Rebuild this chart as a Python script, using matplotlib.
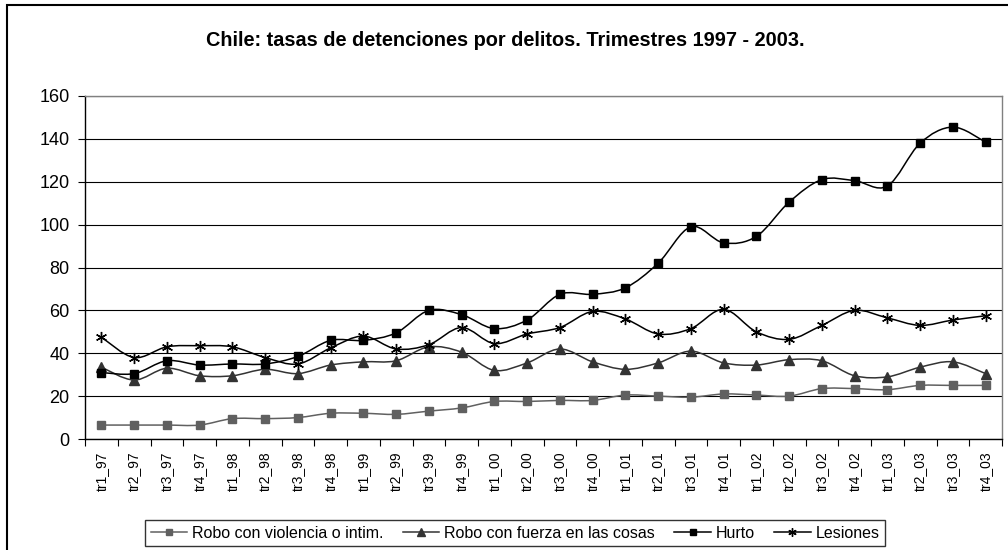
import matplotlib
matplotlib.use("Agg")
import matplotlib.pyplot as plt
from matplotlib.path import Path
from matplotlib.patches import PathPatch, Rectangle
from matplotlib.lines import Line2D
import numpy as np

plt.rcParams['font.family'] = ['Liberation Sans', 'DejaVu Sans']

categories = ["tr1_97", "tr2_97", "tr3_97", "tr4_97",
              "tr1_98", "tr2_98", "tr3_98", "tr4_98",
              "tr1_99", "tr2_99", "tr3_99", "tr4_99",
              "tr1_00", "tr2_00", "tr3_00", "tr4_00",
              "tr1_01", "tr2_01", "tr3_01", "tr4_01",
              "tr1_02", "tr2_02", "tr3_02", "tr4_02",
              "tr1_03", "tr2_03", "tr3_03", "tr4_03"]

robo_violencia = [6.5, 6.5, 6.5, 6.5, 9.5, 9.5, 10, 12, 12, 11.5, 13, 14.5,
                  17.5, 17.5, 18, 18, 20.5, 20, 19.5, 21, 20.5, 20, 23.5, 23.5,
                  23, 25, 25, 25]
robo_fuerza = [33.5, 27.5, 33, 29.5, 29.5, 32.5, 30.5, 34.5, 36, 36.5, 43, 40.5,
               32, 35.5, 42, 36, 32.5, 35.5, 41, 35.5, 34.5, 37, 36.5, 29.5,
               29, 33.5, 36, 30.5]
hurto = [31, 30.5, 36.5, 34.5, 35, 35, 38.5, 46, 46, 49.5, 60, 58,
         51.5, 55.5, 67.5, 67.5, 70.5, 82, 99, 91.5, 94.5, 110.5, 121, 120.5,
         118, 138, 145.5, 138.5]
lesiones = [47.5, 38, 43, 43.5, 43, 38, 35, 42.5, 48, 42, 44, 52,
            44.5, 49, 52, 59.5, 56, 49, 51.5, 60.5, 50, 46.5, 53, 60,
            56.5, 53, 55.5, 57.5]

series_names = ["Robo con violencia o intim.", "Robo con fuerza en las cosas",
                "Hurto", "Lesiones"]
yticks = [0, 20, 40, 60, 80, 100, 120, 140, 160]
title = "Chile: tasas de detenciones por delitos. Trimestres 1997 - 2003."

W, H = 1008, 550
fig = plt.figure(figsize=(W / 100, H / 100), dpi=100)
fig.patch.set_facecolor("white")

# outer chart frame
fig.patches.append(Rectangle((7 / W, -0.2), 1.2, 1 - 5 / H + 0.2,
                             transform=fig.transFigure, fill=False,
                             edgecolor="black", linewidth=1.5))

px_left, px_right, px_top, px_bottom = 85, 1002, 96, 439
ax = fig.add_axes([px_left / W, 1 - px_bottom / H,
                   (px_right - px_left) / W, (px_bottom - px_top) / H])

x = np.arange(len(categories))


def smooth_path(xs, ys):
    pts = np.column_stack([xs, ys]).astype(float)
    n = len(pts)
    verts = [pts[0]]
    codes = [Path.MOVETO]
    for i in range(n - 1):
        p0 = pts[i - 1] if i > 0 else pts[i]
        p1 = pts[i]
        p2 = pts[i + 1]
        p3 = pts[i + 2] if i + 2 < n else pts[i + 1]
        c1 = p1 + (p2 - p0) / 6.0
        c2 = p2 - (p3 - p1) / 6.0
        verts += [c1, c2, p2]
        codes += [Path.CURVE4] * 3
    return Path(verts, codes)


styles = [
    dict(data=robo_violencia, color="#606060", marker="s", ms=6, mfc="#606060"),
    dict(data=robo_fuerza, color="#333333", marker="^", ms=7, mfc="#333333"),
    dict(data=hurto, color="#000000", marker="s", ms=6, mfc="#000000"),
    dict(data=lesiones, color="#000000", marker=(6, 2, 0), ms=8, mfc="#000000"),
]

handles = []
for st, name in zip(styles, series_names):
    patch = PathPatch(smooth_path(x, st["data"]), facecolor="none",
                      edgecolor=st["color"], linewidth=1.1, zorder=3)
    ax.add_patch(patch)
    ax.plot(x, st["data"], linestyle="none", marker=st["marker"],
            markersize=st["ms"], markerfacecolor=st["mfc"],
            markeredgecolor=st["color"], markeredgewidth=1.0, zorder=4)
    handles.append(Line2D([], [], color=st["color"], linewidth=1.1,
                          marker=st["marker"], markersize=st["ms"] * 0.75,
                          markerfacecolor=st["mfc"], markeredgecolor=st["color"],
                          label=name))

ax.set_xlim(-0.5, len(categories) - 0.5)
ax.set_ylim(0, 160)
ax.set_yticks(yticks)
ax.set_yticklabels([str(v) for v in yticks], fontsize=13)
ax.yaxis.grid(True, color="black", linewidth=0.8)
ax.set_axisbelow(True)

ax.set_xticks(x)
ax.set_xticklabels(categories, rotation=90, fontsize=10)
ax.set_xticks(np.arange(len(categories) + 1) - 0.5, minor=True)
ax.tick_params(axis="x", which="major", length=0, pad=9)
ax.tick_params(axis="x", which="minor", length=5, width=0.8, direction="out")
ax.tick_params(axis="y", length=5, width=0.8, direction="out", pad=6)

for s in ["top", "right"]:
    ax.spines[s].set_color("#808080")
    ax.spines[s].set_linewidth(1)
for s in ["left", "bottom"]:
    ax.spines[s].set_color("black")
    ax.spines[s].set_linewidth(1)

fig.text(505 / W, 1 - 40 / H, title, ha="center", va="center",
         fontsize=14.3, fontweight="bold")

leg = fig.legend(handles=handles, loc="center", ncol=4,
                 bbox_to_anchor=(515 / W, 1 - 533 / H), fontsize=11.5,
                 frameon=True, fancybox=False, edgecolor="black",
                 handlelength=2.3, handletextpad=0.3, columnspacing=1.2,
                 borderpad=0.35)
leg.get_frame().set_linewidth(1.0)

fig.savefig("out.png", dpi=100, facecolor="white")
